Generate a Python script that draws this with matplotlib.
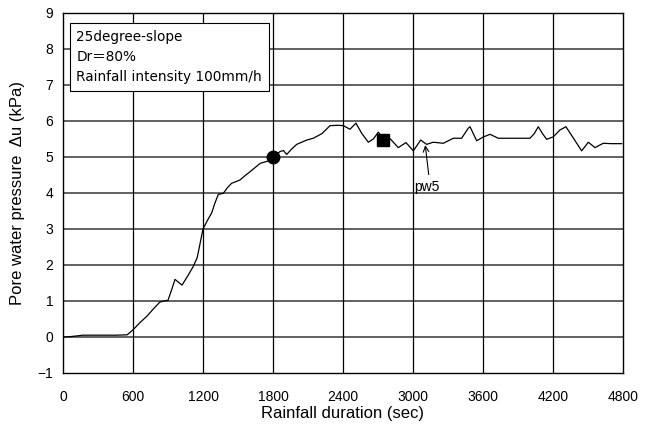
import matplotlib
matplotlib.use("Agg")
import matplotlib.pyplot as plt

plt.rcParams['font.family'] = ['Liberation Sans', 'Noto Sans CJK JP', 'DejaVu Sans']

# Pore water pressure pw5 vs rainfall duration
time_s = [0, 60, 120, 170, 300, 450, 550, 600, 660, 720, 780, 830, 870, 900,
          930, 960, 990, 1020, 1070, 1115, 1150, 1200, 1240, 1275, 1300, 1331, 1374,
          1410, 1446, 1517, 1560, 1603, 1689, 1789, 1803, 1860, 1890, 1917, 1960,
          2003, 2089, 2146, 2220, 2289, 2360, 2403, 2460, 2511, 2560, 2617, 2660,
          2703, 2746, 2803, 2874, 2940, 3003, 3066, 3117, 3174, 3260, 3346, 3417,
          3474, 3489, 3546, 3600, 3660, 3731, 3850, 4003, 4040, 4074, 4110, 4146,
          4203, 4260, 4311, 4380, 4446, 4503, 4560, 4631, 4700, 4789]
pressure_kpa = [0.0, 0.01, 0.03, 0.05, 0.05, 0.05, 0.06, 0.2, 0.4, 0.58, 0.8, 0.97, 1.0, 1.02,
                1.3, 1.6, 1.52, 1.44, 1.7, 1.95, 2.2, 3.0, 3.25, 3.45, 3.7, 3.96, 3.99,
                4.15, 4.27, 4.36, 4.48, 4.59, 4.82, 4.92, 5.0, 5.15, 5.18, 5.07, 5.22,
                5.35, 5.47, 5.52, 5.65, 5.87, 5.88, 5.87, 5.77, 5.94, 5.66, 5.41, 5.5,
                5.69, 5.5, 5.51, 5.26, 5.4, 5.17, 5.47, 5.35, 5.41, 5.38, 5.52, 5.52,
                5.8, 5.84, 5.45, 5.55, 5.63, 5.52, 5.52, 5.52, 5.65, 5.84, 5.65, 5.49,
                5.56, 5.75, 5.84, 5.5, 5.17, 5.41, 5.26, 5.38, 5.37, 5.37]

circle_point = (1800, 5.0)
square_point = (2746, 5.47)

x_ticks = [0, 600, 1200, 1800, 2400, 3000, 3600, 4200, 4800]
y_ticks = [-1, 0, 1, 2, 3, 4, 5, 6, 7, 8, 9]

fig = plt.figure(figsize=(6.53, 4.32), dpi=100)
ax = fig.add_axes([0.0965, 0.1366, 0.8575, 0.8334])

for yt in y_ticks[1:-1]:
    ax.axhline(yt, color='#555555', linewidth=1.3, zorder=1)
for xt in x_ticks[1:-1]:
    ax.axvline(xt, color='black', linewidth=0.9, zorder=1)

ax.plot(time_s, pressure_kpa, color='black', linewidth=0.9, zorder=3)
ax.plot([circle_point[0]], [circle_point[1]], 'o', color='black', markersize=9, zorder=4)
ax.plot([square_point[0]], [square_point[1]], 's', color='black', markersize=8, zorder=4)

ax.annotate('pw5', xy=(3105, 5.33), xytext=(3010, 4.05), fontsize=10,
            arrowprops=dict(arrowstyle='->', color='black', linewidth=0.8,
                            shrinkA=2, shrinkB=0,
                            relpos=(0.6, 1.0)))

ax.set_xlim(0, 4800)
ax.set_ylim(-1, 9)
ax.set_xticks(x_ticks)
ax.set_yticks(y_ticks)
ax.tick_params(axis='x', length=0, labelsize=10, pad=12)
ax.tick_params(axis='y', length=0, labelsize=10, pad=7)
for s in ax.spines.values():
    s.set_linewidth(1.0)

ax.set_xlabel('Rainfall duration (sec)', fontsize=12, labelpad=2)
ax.set_ylabel('Pore water pressure  Δu (kPa)', fontsize=12, labelpad=9)

ax.text(0.024, 0.952, '25degree-slope\nDr＝80%\nRainfall intensity 100mm/h',
        transform=ax.transAxes, ha='left', va='top', fontsize=9.8,
        family=['DejaVu Sans', 'Noto Sans CJK JP'], linespacing=1.55,
        bbox=dict(boxstyle='square,pad=0.5', facecolor='white', edgecolor='black',
                  linewidth=0.8), zorder=5)

fig.savefig('out.png', dpi=100)
